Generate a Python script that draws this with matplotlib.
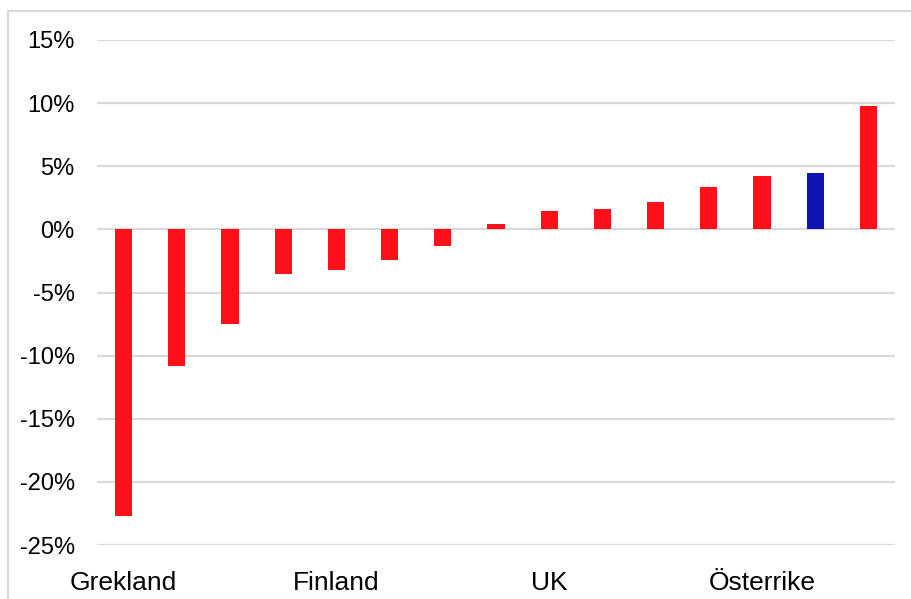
import matplotlib.pyplot as plt
from matplotlib.patches import Rectangle
from matplotlib.ticker import FuncFormatter

plt.rcParams['font.family'] = ['Liberation Sans', 'DejaVu Sans']

## data (percent)
categories = ["Grekland", "", "", "", "Finland", "", "", "",
              "UK", "", "", "", "Österrike", "", ""]
values = [-22.7, -10.8, -7.5, -3.5, -3.2, -2.45, -1.35, 0.4,
          1.45, 1.6, 2.15, 3.35, 4.2, 4.5, 9.8]
highlight = 13  # blue bar

red = "#FF1019"
blue = "#0C14B4"
colors = [blue if i == highlight else red for i in range(len(values))]

fig = plt.figure(figsize=(9.12, 5.99), dpi=100)
ax = fig.add_axes([97 / 912, 1 - 545 / 599, (895 - 97) / 912, (545 - 40) / 599])

x = list(range(len(values)))
ax.bar(x, values, width=0.32, color=colors, zorder=3)

ax.set_xlim(-0.5, len(values) - 0.5)
ax.set_ylim(-25, 15)
ax.set_yticks(range(-25, 16, 5))
ax.yaxis.set_major_formatter(FuncFormatter(lambda v, p: f"{v:.0f}%"))
ax.set_xticks(x)
ax.set_xticklabels(categories)

ax.grid(axis="y", color="#D9D9D9", linewidth=1.6, zorder=0)
for s in ax.spines.values():
    s.set_visible(False)
ax.tick_params(axis="both", length=0, colors="black")
ax.tick_params(axis="y", pad=16, labelsize=17)
ax.tick_params(axis="x", pad=19, labelsize=19)

## outer frame (only top and left edges show)
frame = Rectangle((8 / 912, -0.05), 1.0, 1 - 11 / 599 + 0.05,
                  transform=fig.transFigure, fill=False,
                  edgecolor="#D9D9D9", linewidth=1.5, zorder=0)
fig.patches.append(frame)

fig.savefig("out.png", dpi=100)
